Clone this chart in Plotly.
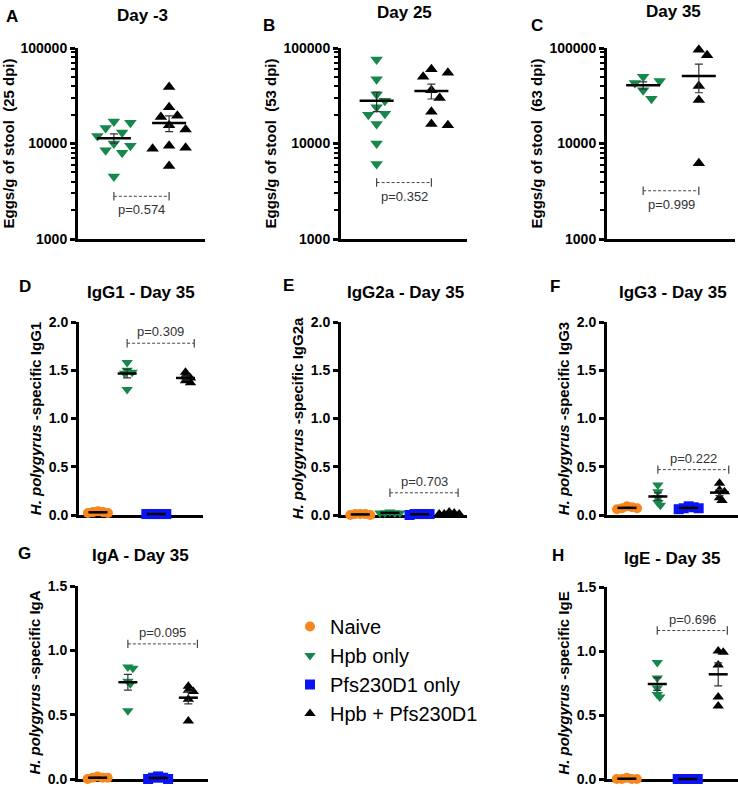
import numpy as np
import plotly.graph_objects as go

W, H = 738, 788
FONT = "Liberation Sans, Arial, sans-serif"

# group colours / symbols
GROUP_NAMES = {"naive": "Naive", "hpb": "Hpb only", "pfs": "Pfs230D1 only", "combo": "Hpb + Pfs230D1"}
GROUP_COLORS = {"naive": "#f7861c", "hpb": "#17884b", "pfs": "#0a14f5", "combo": "#000000"}
GROUP_SYMBOLS = {"naive": "circle", "hpb": "triangle-down", "pfs": "square", "combo": "triangle-up"}

# eggs / g of stool
eggs_dm3_hpb = [17000, 16500, 14500, 13000, 12000, 10000, 9500, 8500, 8000, 4500]
eggs_dm3_combo = [39000, 24000, 19500, 19000, 15500, 14000, 9500, 9000, 8800, 5800]
eggs_d25_hpb = [76000, 47000, 32500, 28000, 24000, 20500, 20000, 16000, 10000, 6100]
eggs_d25_combo = [60000, 55000, 50000, 36000, 30000, 21500, 16000, 15500]
eggs_d35_hpb = [50000, 45000, 43000, 36000, 29500]
eggs_d35_combo = [96000, 84000, 40000, 28500, 6200]

# H. polygyrus-specific antibodies, day 35
igg1_naive = [0.04, 0.03, 0.03, 0.02, 0.02]
igg1_hpb = [1.58, 1.50, 1.48, 1.47, 1.30]
igg1_pfs = [0.01, 0.01, 0.01, 0.01, 0.01]
igg1_combo = [1.48, 1.44, 1.42, 1.39, 1.37]

igg2a_naive = [0.01, 0.01, 0.00, 0.01, 0.00]
igg2a_hpb = [0.03, 0.02, 0.02, 0.02, 0.02]
igg2a_pfs = [0.01, 0.01, 0.01, 0.00, 0.01]
igg2a_combo = [0.03, 0.02, 0.01, 0.01, 0.01]

igg3_naive = [0.09, 0.08, 0.07, 0.07, 0.06]
igg3_hpb = [0.31, 0.24, 0.18, 0.13, 0.10]
igg3_pfs = [0.09, 0.08, 0.07, 0.07, 0.06]
igg3_combo = [0.33, 0.26, 0.24, 0.18, 0.15]

iga_naive = [0.02, 0.01, 0.01, 0.01, 0.00]
iga_hpb = [0.87, 0.86, 0.76, 0.74, 0.53]
iga_pfs = [0.02, 0.01, 0.01, 0.00, 0.00]
iga_combo = [0.72, 0.69, 0.68, 0.62, 0.45]

ige_naive = [0.01, 0.00, 0.00, 0.00, 0.00]
ige_hpb = [0.91, 0.79, 0.71, 0.66, 0.64]
ige_pfs = [0.00, 0.00, 0.00, 0.00, 0.00]
ige_combo = [1.00, 0.99, 0.89, 0.64, 0.57]

# p-values and bracket heights
p_texts = ["p=0.574", "p=0.352", "p=0.999", "p=0.309", "p=0.703", "p=0.222", "p=0.095", "p=0.696"]
p_levels = [2800, 3900, 3200, 1.78, 0.23, 0.47, 1.05, 1.16]

panel_titles = ["Day -3", "Day 25", "Day 35", "IgG1 - Day 35", "IgG2a - Day 35",
                "IgG3 - Day 35", "IgA - Day 35", "IgE - Day 35"]
panel_letters = ["A", "B", "C", "D", "E", "F", "G", "H"]
y_titles = ["Eggs/g of stool  (25 dpi)", "Eggs/g of stool  (53 dpi)", "Eggs/g of stool  (63 dpi)",
            "<i>H. polygyrus</i> -specific IgG1", "<i>H. polygyrus</i> -specific IgG2a",
            "<i>H. polygyrus</i> -specific IgG3", "<i>H. polygyrus</i> -specific IgA",
            "<i>H. polygyrus</i> -specific IgE"]

log_ticks = [1000, 10000, 100000]
log_ticktext = ["1000", "10000", "100000"]
od_ticks_2 = [0, 0.5, 1.0, 1.5, 2.0]
od_ticks_15 = [0, 0.5, 1.0, 1.5]

group_data = [
    [("hpb", eggs_dm3_hpb), ("combo", eggs_dm3_combo)],
    [("hpb", eggs_d25_hpb), ("combo", eggs_d25_combo)],
    [("hpb", eggs_d35_hpb), ("combo", eggs_d35_combo)],
    [("naive", igg1_naive), ("hpb", igg1_hpb), ("pfs", igg1_pfs), ("combo", igg1_combo)],
    [("naive", igg2a_naive), ("hpb", igg2a_hpb), ("pfs", igg2a_pfs), ("combo", igg2a_combo)],
    [("naive", igg3_naive), ("hpb", igg3_hpb), ("pfs", igg3_pfs), ("combo", igg3_combo)],
    [("naive", iga_naive), ("hpb", iga_hpb), ("pfs", iga_pfs), ("combo", iga_combo)],
    [("naive", ige_naive), ("hpb", ige_hpb), ("pfs", ige_pfs), ("combo", ige_combo)],
]

# layout of each panel in pixels: x0, x1, ytop, ybottom
boxes = [(78, 205, 48, 239), (341, 467, 48, 239), (607, 735, 48, 239),
         (79, 203, 322, 515), (341, 467, 322, 515), (607, 738, 322, 515),
         (78, 208, 586, 779), (607, 738, 587, 779)]
title_pos = [(142, 15), (404, 13), (673, 11), (141, 292), (405, 292), (673, 293), (140, 555), (672, 558)]
letter_pos = [(12, 17), (269, 25), (537, 25), (25, 287), (288, 285), (555, 287), (25, 553), (558, 555)]


def swarm(vals, ypx, d, step, mind, log=False):
    v = np.log10(np.maximum(vals, 1e-9)) if log else np.asarray(vals, float)
    ys = v * ypx
    offs = np.zeros(len(v))
    placed = []
    for i in np.argsort(-ys):
        dx = 0.0
        for k in [0, 1, -1, 2, -2, 3, -3, 4, -4]:
            dx = k * step * d
            if all((dx - px) ** 2 + (ys[i] - py) ** 2 >= (mind * d) ** 2 for px, py in placed):
                break
        placed.append((dx, ys[i]))
        offs[i] = dx
    return offs


fig = go.Figure()
annotations = []
layout_axes = {}

for k in range(8):
    n = k + 1
    xa = "x" if n == 1 else f"x{n}"
    ya = "y" if n == 1 else f"y{n}"
    x0, x1, yt, yb = boxes[k]
    is_log = k < 3
    groups = group_data[k]
    if is_log:
        xr = [-0.65, 1.65]
        yr = [3, 5]
    elif k < 6:
        xr = [-0.65, 3.6]
        yr = [0, 2]
    else:
        xr = [-0.65, 3.65]
        yr = [0, 1.5]
    xpx = (x1 - x0) / (xr[1] - xr[0])
    ypx = (yb - yt) / (yr[1] - yr[0])
    msize = 11 if is_log else 10
    mean_len = 34 if is_log else 19

    for gi, (grp, vals) in enumerate(groups):
        vals = np.asarray(vals, float)
        if is_log:
            offs = swarm(vals, ypx, msize, 0.75, 0.9, log=True)
        else:
            offs = swarm(vals, ypx, msize, 0.25, 0.35)
        fig.add_trace(go.Scatter(
            x=gi + offs / xpx, y=vals, mode="markers",
            name=GROUP_NAMES[grp], legendgroup=grp,
            showlegend=(k == 3), cliponaxis=False,
            marker=dict(symbol=GROUP_SYMBOLS[grp], size=msize, color=GROUP_COLORS[grp],
                        line=dict(width=0)),
            xaxis=xa, yaxis=ya,
        ))
        mean = vals.mean()
        sem = vals.std(ddof=1) / np.sqrt(len(vals))
        fig.add_trace(go.Scatter(
            x=[gi], y=[mean], mode="markers", showlegend=False, cliponaxis=False,
            marker=dict(symbol="line-ew", size=mean_len / 1.4, color="black",
                        line=dict(width=2.5, color="black")),
            error_y=dict(type="data", array=[sem], color="#333", thickness=1.2, width=4),
            xaxis=xa, yaxis=ya,
        ))

    # p-value bracket between Hpb only and Hpb + Pfs230D1
    names = [g for g, _ in groups]
    i_a, i_b = names.index("hpb"), names.index("combo")
    right = i_b if is_log else i_b + 0.3
    lvl = p_levels[k]
    fig.add_trace(go.Scatter(
        x=[i_a, right], y=[lvl, lvl], mode="lines+markers", showlegend=False, cliponaxis=False,
        line=dict(color="#444", width=1, dash="3px,2px"),
        marker=dict(symbol="line-ns", size=6, color="#444", line=dict(width=1.2, color="#444")),
        xaxis=xa, yaxis=ya,
    ))
    annotations.append(dict(
        x=(i_a + right) / 2, y=np.log10(lvl) if is_log else lvl, xref=xa, yref=ya,
        text=p_texts[k], showarrow=False,
        yanchor="top" if is_log else "bottom", yshift=-4 if is_log else 2,
        font=dict(family=FONT, size=13, color="#333"),
    ))

    # panel title and letter
    tx, ty = title_pos[k]
    annotations.append(dict(x=tx / W, y=1 - ty / H, xref="paper", yref="paper",
                            text=panel_titles[k], showarrow=False, xanchor="center", yanchor="middle",
                            font=dict(family=FONT, size=17, color="black", weight="bold")))
    lx, ly = letter_pos[k]
    annotations.append(dict(x=lx / W, y=1 - ly / H, xref="paper", yref="paper",
                            text=panel_letters[k], showarrow=False, xanchor="center", yanchor="middle",
                            font=dict(family=FONT, size=17, color="black", weight="bold")))

    xkey = "xaxis" if n == 1 else f"xaxis{n}"
    ykey = "yaxis" if n == 1 else f"yaxis{n}"
    layout_axes[xkey] = dict(
        domain=[x0 / W, x1 / W], range=xr, anchor=ya,
        showgrid=False, zeroline=False, showticklabels=False, ticks="",
        showline=True, linecolor="black", linewidth=3, layer="below traces",
    )
    yax = dict(
        domain=[1 - yb / H, 1 - yt / H], anchor=xa,
        showgrid=False, zeroline=False, showline=True, linecolor="black", linewidth=3,
        ticks="outside", ticklen=5, tickwidth=2.5, tickcolor="black", layer="below traces",
        ticklabeloverflow="allow",
        tickfont=dict(family=FONT, size=14, color="black", weight="bold"),
        title=dict(text=y_titles[k], standoff=4,
                   font=dict(family=FONT, size=15, color="black", weight="bold")),
    )
    if is_log:
        yax.update(type="log", range=yr, tickvals=log_ticks, ticktext=log_ticktext,
                   minor=dict(ticks="outside", ticklen=4, tickwidth=1.5, tickcolor="black",
                              tickvals=[m * 10 ** e for e in (3, 4) for m in range(2, 10)],
                              showgrid=False))
    else:
        yax.update(range=yr, tickvals=od_ticks_2 if k < 6 else od_ticks_15, tickformat=".1f")
    layout_axes[ykey] = yax

fig.update_layout(
    width=W, height=H,
    margin=dict(l=0, r=0, t=0, b=0, autoexpand=False),
    paper_bgcolor="white", plot_bgcolor="white",
    font=dict(family=FONT, color="black"),
    annotations=annotations,
    showlegend=True,
    legend=dict(x=290 / W, y=1 - 607 / H, xanchor="left", yanchor="top",
                bgcolor="rgba(0,0,0,0)", font=dict(family=FONT, size=20, color="black"),
                tracegroupgap=0, itemwidth=30),
    **layout_axes,
)

fig.write_html("out.html", config={"displayModeBar": False},
               post_script="document.body.style.margin = '0';")
